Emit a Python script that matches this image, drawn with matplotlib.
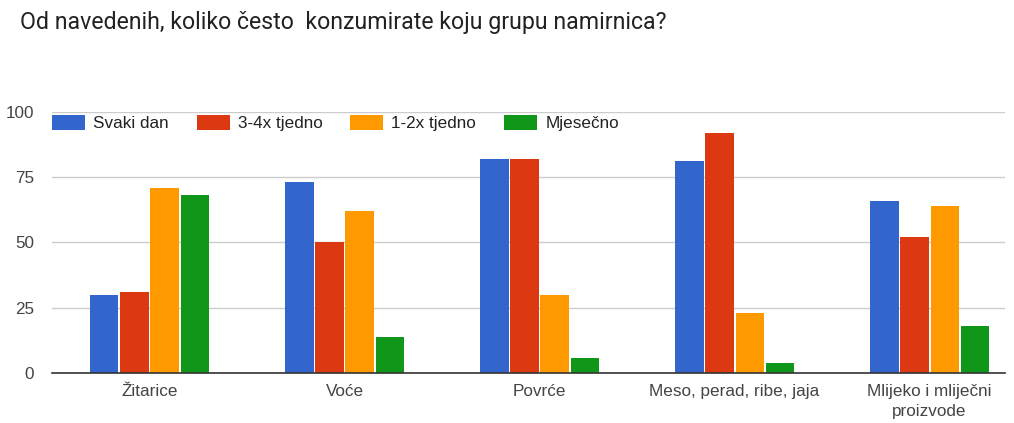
import numpy as np
import matplotlib
matplotlib.use("Agg")
import matplotlib.pyplot as plt

plt.rcParams['font.family'] = ['Liberation Sans', 'DejaVu Sans']

# podaci očitani s grafa
kategorije = ["Žitarice", "Voće", "Povrće", "Meso, perad, ribe, jaja", "Mlijeko i mliječni\nproizvode"]
svaki_dan = [30, 73, 82, 81, 66]
tjedno_34 = [31, 50, 82, 92, 52]
tjedno_12 = [71, 62, 30, 23, 64]
mjesecno = [68, 14, 6, 4, 18]
serije = ["Svaki dan", "3-4x tjedno", "1-2x tjedno", "Mjesečno"]
boje = ["#3366cc", "#dc3912", "#ff9900", "#109618"]

fig = plt.figure(figsize=(10.14, 4.23), dpi=100)
ax = fig.add_axes([52/1014, 1 - 373.3/423, (1005-52)/1014, 261.6/423])

x = np.arange(len(kategorije))
sirina = 0.144
korak = 0.154
for i, (vrijednosti, boja) in enumerate(zip([svaki_dan, tjedno_34, tjedno_12, mjesecno], boje)):
    ax.bar(x + (i - 1.5) * korak, vrijednosti, sirina, color=boja, label=serije[i], zorder=3)

ax.set_xlim(-0.5, 4.387)
ax.set_ylim(0, 100)
ax.set_yticks([0, 25, 50, 75, 100])
ax.grid(axis='y', color='#cccccc', linewidth=1, zorder=0)
for s in ['top', 'right', 'left']:
    ax.spines[s].set_visible(False)
ax.spines['bottom'].set_color('#333333')
ax.spines['bottom'].set_linewidth(1.2)
ax.spines['bottom'].set_zorder(4)
ax.tick_params(axis='both', length=0, colors='#444444', labelsize=12.3)
ax.tick_params(axis='y', pad=13)
ax.tick_params(axis='x', pad=8)
ax.set_xticks(x)
ax.set_xticklabels(kategorije, va='top', linespacing=1.35)

ax.legend(loc='upper left', bbox_to_anchor=(0, 1 - 3.5/261.6), ncol=4, frameon=False,
          fontsize=12.3, handlelength=1.93, handleheight=0.94, columnspacing=1.64,
          handletextpad=0.47, borderpad=0, borderaxespad=0, labelcolor='#222222')

fig.text(20/1014, 1 - 22/423, "Od navedenih, koliko često  konzumirate koju grupu namirnica?",
         fontsize=16.7, family=['Roboto', 'DejaVu Sans'], color='#222222', va='center', ha='left')

fig.savefig("out.png", dpi=100)
